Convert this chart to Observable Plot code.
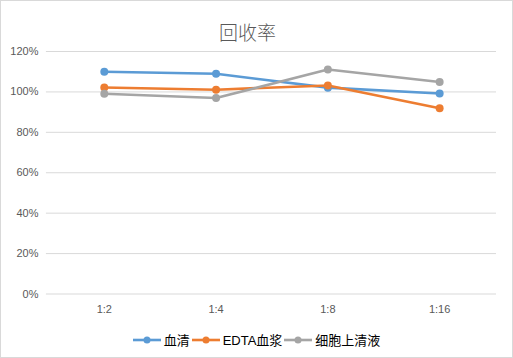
<!DOCTYPE html>
<html><head><meta charset="utf-8">
<script src="https://cdn.jsdelivr.net/npm/d3@7"></script>
<script src="https://cdn.jsdelivr.net/npm/@observablehq/plot@0.6"></script>
<style>
body{margin:0;background:#fff;}
#wrap{position:relative;width:513px;height:358px;box-sizing:border-box;border:1px solid #d9d9d9;background:#fff;font-family:"Liberation Sans","Noto Sans CJK SC",sans-serif;overflow:hidden;}
#title{position:absolute;top:17px;left:0;width:493px;text-align:center;font-size:19px;color:#595959;font-family:"Noto Sans CJK SC",sans-serif;font-weight:300;}
#chart{position:absolute;top:43px;left:-1px;}
#legend{position:absolute;top:329px;left:0;width:511px;display:flex;justify-content:center;font-size:13px;color:#000;}
.li{display:flex;align-items:center;margin:0 1px;}
.li span{font-family:"Liberation Sans Narrow","Liberation Sans","Noto Sans CJK SC",sans-serif;}
</style></head>
<body><div id="wrap"><div id="title">回收率</div><div id="chart"></div><div id="legend"></div></div>
<script>
const categories = ["1:2","1:4","1:8","1:16"];
const seriesNames = ["血清","EDTA血浆","细胞上清液"];
const serum = [110.0, 109.0, 102.1, 99.2];
const edta = [102.2, 101.1, 103.2, 91.9];
const supernatant = [99.1, 97.0, 111.1, 104.9];
const yTicks = [0,20,40,60,80,100,120];
const colors = ["#5B9BD5","#ED7D31","#A5A5A5"];

const seriesValues = [serum, edta, supernatant];
const data = [];
seriesNames.forEach((s,i)=>categories.forEach((c,j)=>data.push({series:s,cat:c,v:seriesValues[i][j]})));

const chart = Plot.plot({
  width: 513, height: 280,
  marginLeft: 46, marginRight: 16, marginTop: 7, marginBottom: 30,
  style: {fontFamily: '"Liberation Sans","Noto Sans CJK SC",sans-serif', fontSize: "11px", color: "#595959", background: "transparent"},
  x: {type: "point", domain: categories, padding: 0.5, label: null},
  y: {domain: [0,120], ticks: yTicks, label: null},
  color: {domain: seriesNames, range: colors},
  marks: [
    Plot.gridY(yTicks, {stroke: "#d9d9d9", strokeOpacity: 1, strokeWidth: 1}),
    Plot.axisY(yTicks, {tickSize: 0, tickPadding: 8, tickFormat: d => d + "%", label: null, fill: "#595959"}),
    Plot.axisX({tickSize: 0, tickPadding: 11, label: null, fill: "#595959"}),
    Plot.line(data, {x: "cat", y: "v", z: "series", stroke: "series", strokeWidth: 2.6}),
    Plot.dot(data, {x: "cat", y: "v", fill: "series", r: 4})
  ]
});
document.getElementById("chart").appendChild(chart);

const leg = document.getElementById("legend");
seriesNames.forEach((s,i)=>{
  const d = document.createElement("div"); d.className="li";
  d.innerHTML = `<svg width="28" height="12"><line x1="0" x2="28" y1="6" y2="6" stroke="${colors[i]}" stroke-width="2.6"/><circle cx="14" cy="6" r="3.5" fill="${colors[i]}"/></svg><span style="margin-left:3px">${s}</span>`;
  leg.appendChild(d);
});
</script></body></html>
